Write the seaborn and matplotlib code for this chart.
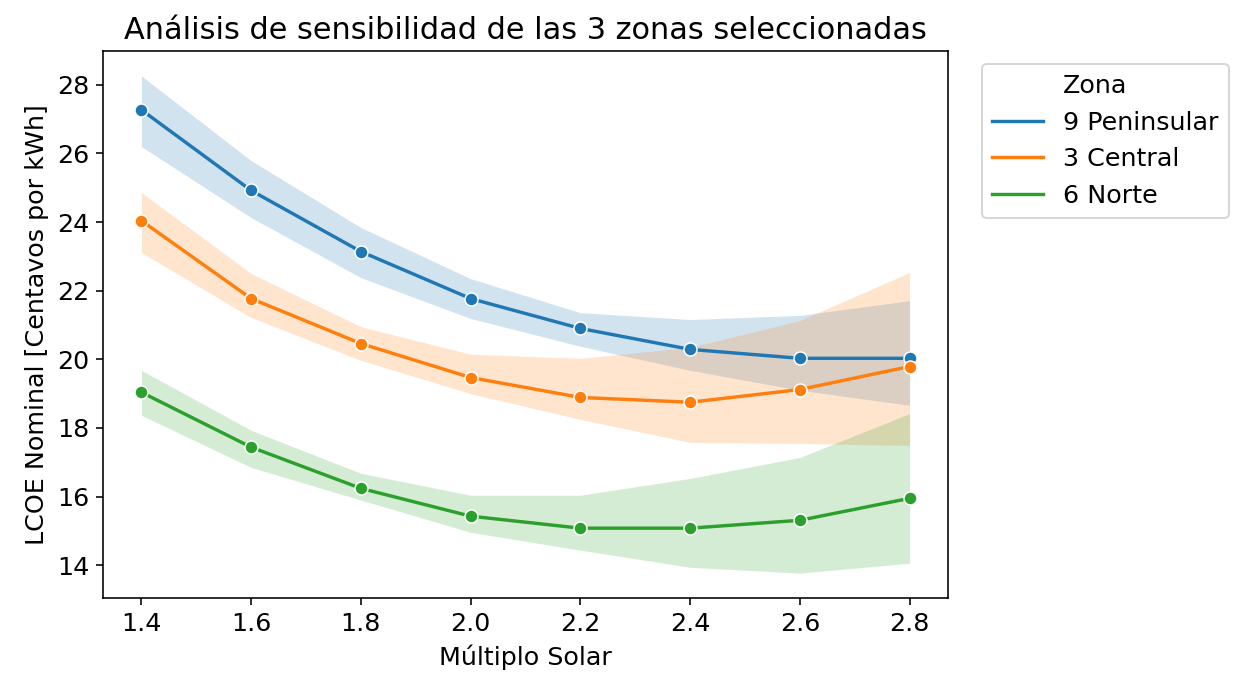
import numpy as np
import pandas as pd
import matplotlib
matplotlib.use("Agg")
import matplotlib.pyplot as plt
from matplotlib.lines import Line2D
import seaborn as sns

# Múltiplo solar evaluado
multiplo = [1.4, 1.6, 1.8, 2.0, 2.2, 2.4, 2.6, 2.8]

# LCOE nominal (centavos por kWh): valor central y límites inferior/superior por zona
peninsular_centro = [27.27, 24.92, 23.14, 21.77, 20.90, 20.29, 20.03, 20.03]
peninsular_min = [26.20, 24.13, 22.38, 21.19, 20.38, 19.68, 19.10, 18.66]
peninsular_max = [28.26, 25.79, 23.84, 22.35, 21.36, 21.16, 21.28, 21.71]

central_centro = [24.04, 21.77, 20.46, 19.47, 18.89, 18.75, 19.12, 19.79]
central_min = [23.11, 21.22, 19.97, 19.00, 18.25, 17.58, 17.55, 17.49]
central_max = [24.86, 22.50, 20.95, 20.15, 20.03, 20.35, 21.13, 22.53]

norte_centro = [19.04, 17.44, 16.24, 15.43, 15.08, 15.08, 15.31, 15.95]
norte_min = [18.37, 16.85, 15.90, 14.96, 14.44, 13.94, 13.77, 14.06]
norte_max = [19.68, 17.93, 16.68, 16.04, 16.04, 16.53, 17.14, 18.42]

zonas = ["9 Peninsular", "3 Central", "6 Norte"]
colores = ["#1f77b4", "#ff7f0e", "#2ca02c"]

series = {
    "9 Peninsular": (peninsular_min, peninsular_centro, peninsular_max),
    "3 Central": (central_min, central_centro, central_max),
    "6 Norte": (norte_min, norte_centro, norte_max),
}

# Tabla larga: tres escenarios (mínimo, central, máximo) por zona y múltiplo
filas = []
for zona in zonas:
    for valores in series[zona]:
        for x, v in zip(multiplo, valores):
            filas.append({"Múltiplo Solar": x, "LCOE": v, "Zona": zona})
df = pd.DataFrame(filas)

plt.rcParams["font.size"] = 12.7

fig = plt.figure(figsize=(1236 / 144, 680 / 144), dpi=144)
ax = fig.add_axes([103 / 1236, 1 - 598 / 680, (948 - 103) / 1236, (598 - 51) / 680])

sns.lineplot(
    data=df, x="Múltiplo Solar", y="LCOE", hue="Zona", hue_order=zonas,
    palette=colores, estimator="median", errorbar=("pi", 100),
    marker="o", markersize=6.5, linewidth=1.7, legend=False, ax=ax,
    err_kws={"linewidth": 0},
)

ax.set_title("Análisis de sensibilidad de las 3 zonas seleccionadas", fontsize=15.2)
ax.set_xlabel("Múltiplo Solar")
ax.set_ylabel("LCOE Nominal [Centavos por kWh]")
ax.set_xticks(multiplo)
ax.set_xticklabels([f"{v:.1f}" for v in multiplo])
ax.set_yticks([14, 16, 18, 20, 22, 24, 26, 28])

handles = [Line2D([], [], linestyle="none")] + [
    Line2D([], [], color=c, lw=1.7) for c in colores
]
labels = ["Zona"] + zonas
ax.legend(handles, labels, loc="upper left", bbox_to_anchor=(1.025, 1))

fig.savefig("out.png", dpi=144)
